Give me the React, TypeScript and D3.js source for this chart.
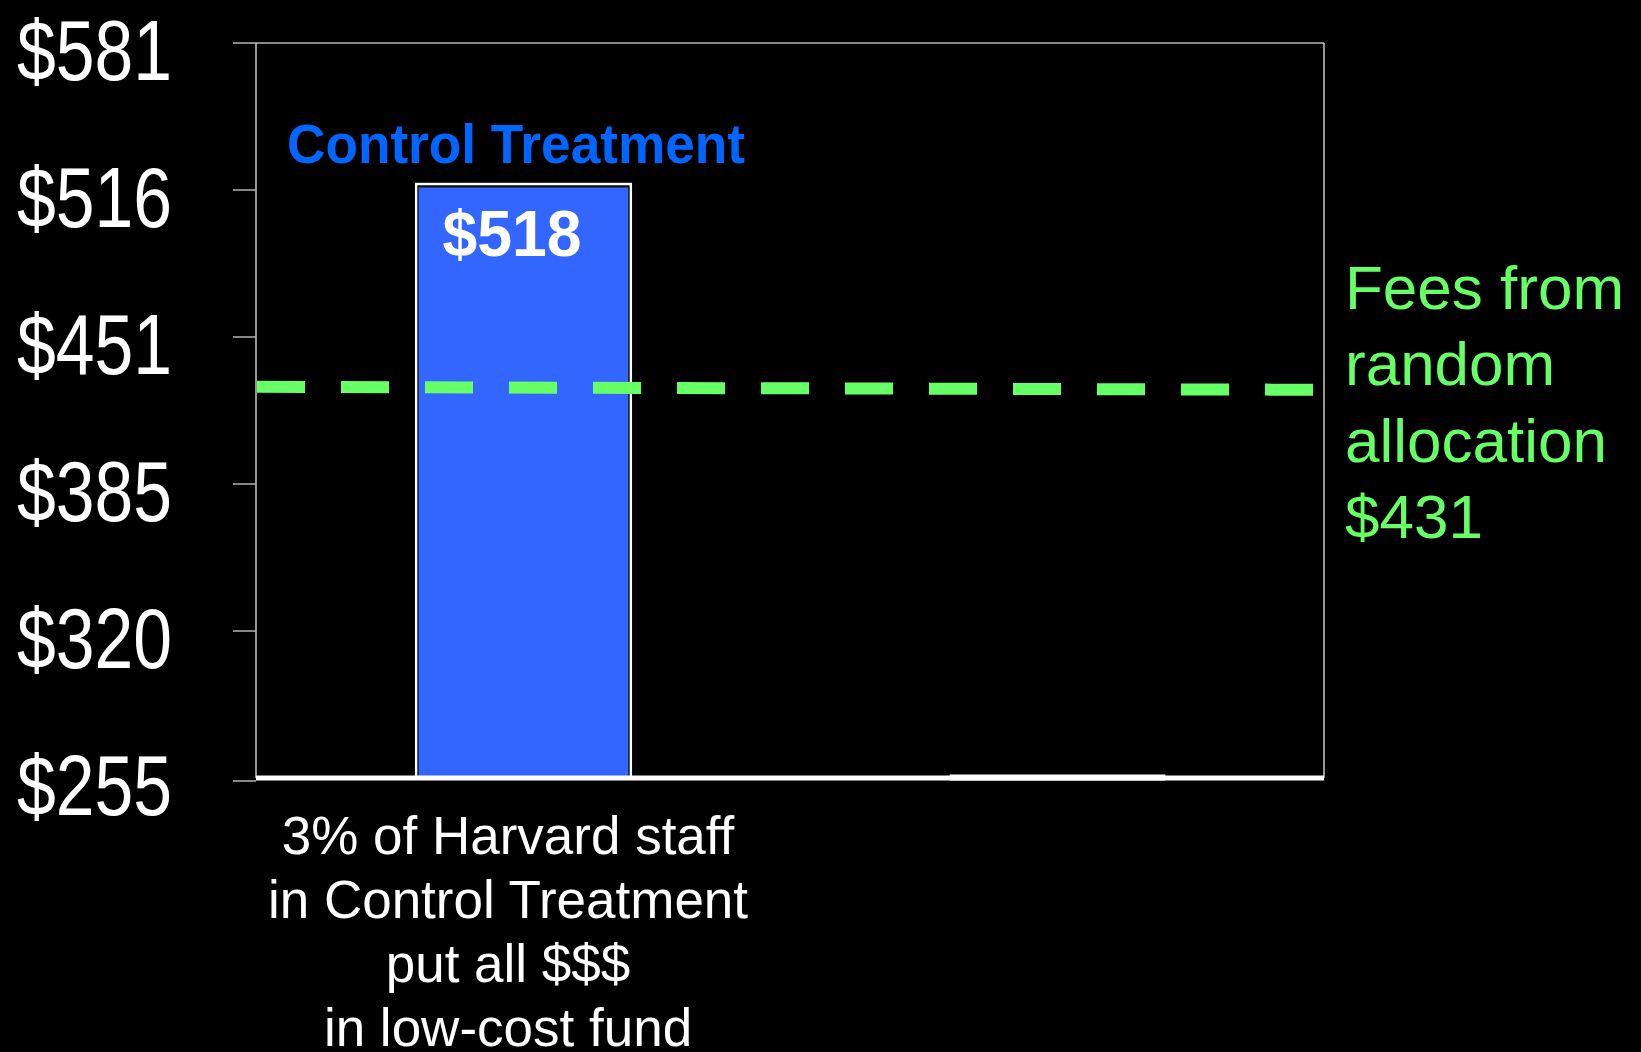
import React from "react";
import * as d3 from "d3";

const categories = ["Control Treatment", "Other"];
const values = [518, 255];
const yTickValues = [255, 320.2, 385.4, 450.6, 515.8, 581];
const yTickLabels = ["$255", "$320", "$385", "$451", "$516", "$581"];
const feeLine = [428.5, 427.2];
const feeLabelLines = ["Fees from", "random", "allocation", "$431"];
const barLabel = "$518";
const barTitle = "Control Treatment";
const bottomLines = ["3% of Harvard staff", "in Control Treatment", "put all $$$", "in low-cost fund"];

const W = 1641;
const H = 1052;
const FONT = "'Liberation Sans', Arial, Helvetica, sans-serif";

export default function App() {
  const x0 = 256, x1 = 1324, yTop = 43, yBot = 778;
  const x = d3.scaleBand<string>().domain(categories).range([x0, x1]).paddingInner(0.6).paddingOuter(0.3);
  const y = d3.scaleLinear().domain([255, 581]).range([yBot, yTop]);
  const bw = x.bandwidth();
  const c0 = x(categories[0])! + bw / 2;
  const lineX = d3.scaleLinear().domain([0, 1]).range([x0 + 1, 1313]);
  const dashLine = d3.line<[number, number]>().x(d => d[0]).y(d => d[1]);

  return (
    <svg width={W} height={H} style={{ position: "absolute", left: 0, top: 0, background: "#000" }}>
      <rect x={0} y={0} width={W} height={H} fill="#000" />
      {/* plot border */}
      <line x1={x0} x2={x1} y1={yTop} y2={yTop} stroke="#b4b4b4" strokeWidth={1.5} />
      <line x1={x1} x2={x1} y1={yTop} y2={yBot} stroke="#c8c8c8" strokeWidth={1.5} />
      <line x1={x0} x2={x0} y1={yTop} y2={yBot} stroke="#c8c8c8" strokeWidth={1.5} />
      {/* ticks + labels */}
      {yTickValues.map((v, i) => (
        <g key={i}>
          <line x1={233} x2={x0} y1={y(v) + (i === 0 ? 3 : 0)} y2={y(v) + (i === 0 ? 3 : 0)} stroke="#b4b4b4" strokeWidth={1.5} />
          <text
            transform={`translate(17,${y(v) + 37}) scale(0.81,1)`}
            fill="#fff"
            fontFamily={FONT}
            fontSize={86}
          >
            {yTickLabels[i]}
          </text>
        </g>
      ))}
      {/* bars */}
      {categories.map((c, i) => {
        const bx = x(c)!;
        const by = y(values[i]);
        const h = yBot - by;
        return h > 0 ? (
          <g key={c}>
            <rect x={bx} y={by - 1} width={bw + 1} height={h + 1} fill="none" stroke="#fff" strokeWidth={2.5} />
            <rect x={bx + 2} y={by + 2} width={bw - 3} height={h - 2} fill="#3366FF" stroke="#1a1a1a" strokeWidth={1} />
          </g>
        ) : (
          <rect key={c} x={bx} y={yBot - 3} width={bw + 1} height={5} fill="#fff" stroke="#fff" strokeWidth={1} />
        );
      })}
      {/* baseline */}
      <line x1={x0} x2={x1} y1={yBot} y2={yBot} stroke="#fff" strokeWidth={5} />
      {/* green dashed reference line */}
      <path
        d={dashLine([[lineX(0), y(feeLine[0])], [lineX(1), y(feeLine[1])]])!}
        stroke="#66FF66"
        strokeWidth={12}
        strokeDasharray="48 36"
        fill="none"
      />
      {/* bar title and value */}
      <text x={516} y={163} fill="#0066FF" fontFamily={FONT} fontWeight="bold" fontSize={55} textAnchor="middle" textLength={458} lengthAdjust="spacingAndGlyphs">
        {barTitle}
      </text>
      <text x={c0 - 11} y={256} fill="#fff" fontFamily={FONT} fontWeight="bold" fontSize={64} textAnchor="middle" textLength={139} lengthAdjust="spacingAndGlyphs">
        {barLabel}
      </text>
      {/* fee label */}
      {feeLabelLines.map((t, i) => (
        <text key={t} x={1345} y={309 + i * 76.3} fill="#66FF66" fontFamily={FONT} fontSize={62}>
          {t}
        </text>
      ))}
      {/* bottom category text */}
      {bottomLines.map((t, i) => (
        <text key={t} x={508} y={854 + i * 64} fill="#fff" fontFamily={FONT} fontSize={53} textAnchor="middle">
          {t}
        </text>
      ))}
    </svg>
  );
}
